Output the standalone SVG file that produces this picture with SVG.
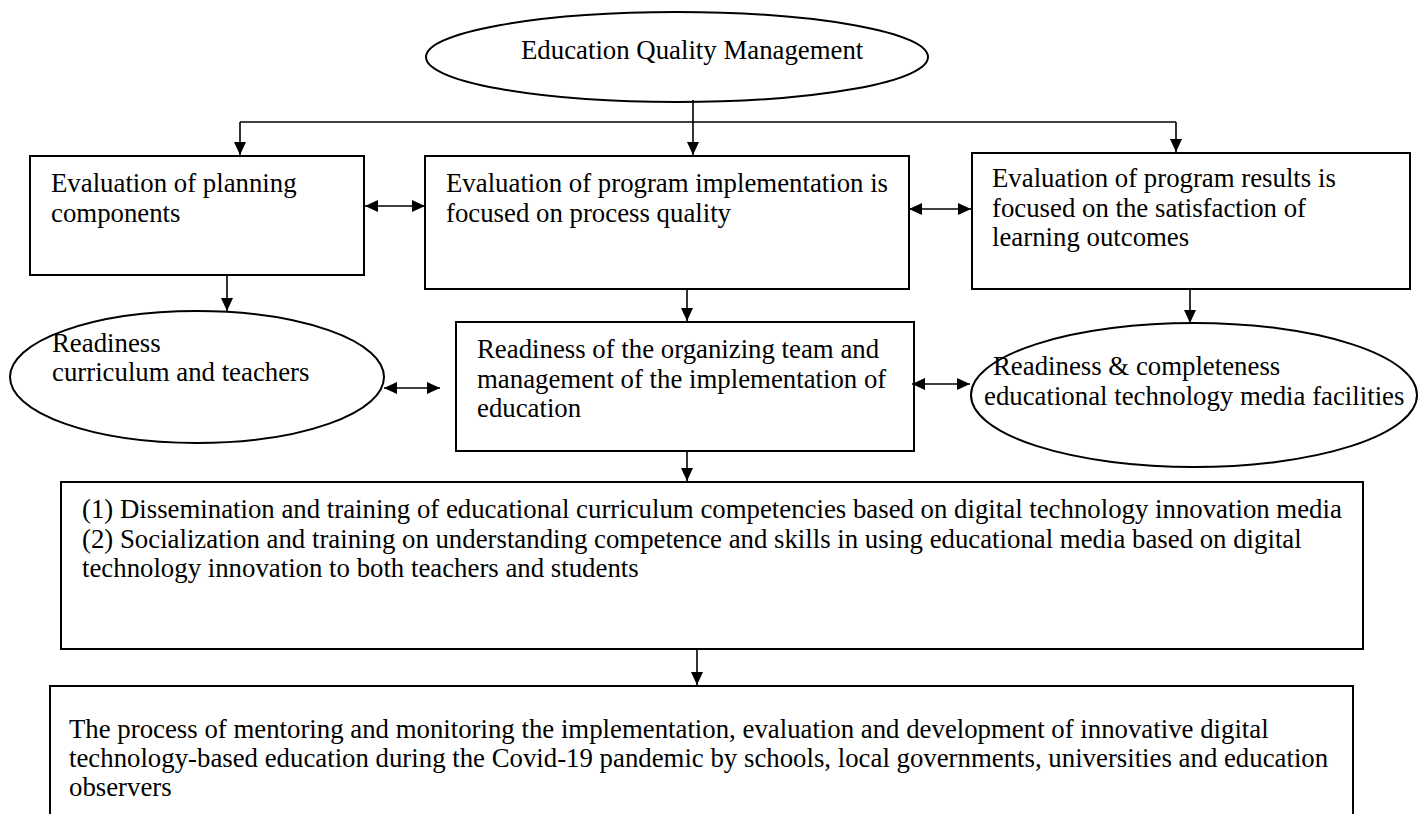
<svg xmlns="http://www.w3.org/2000/svg" width="1425" height="814" viewBox="0 0 1425 814">
<style>
.n{fill:#fff;stroke:#000;stroke-width:2}
.t{font-family:"Liberation Serif","Times New Roman",serif;font-size:26.8px;fill:#000}
.c{fill:none;stroke:#000;stroke-width:1.6}
</style>
<defs>
<marker id="ah" markerWidth="13" markerHeight="12" refX="13" refY="6" orient="auto-start-reverse" markerUnits="userSpaceOnUse">
<path d="M0,0 L13,6 L0,12 z" fill="#000"/>
</marker>
</defs>
<rect width="1425" height="814" fill="#fff"/>
<g id="n-top">
<ellipse class="n" cx="677" cy="57" rx="251" ry="45"/>
<text class="t" x="521" y="59">Education Quality Management</text>
</g>
<g id="n-plan">
<rect class="n" x="30" y="156" width="334" height="119"/>
<text class="t" x="51" y="192">Evaluation of planning</text>
<text class="t" x="51" y="222">components</text>
</g>
<g id="n-impl">
<rect class="n" x="425" y="156" width="484" height="133"/>
<text class="t" x="446" y="192">Evaluation of program implementation is</text>
<text class="t" x="446" y="222">focused on process quality</text>
</g>
<g id="n-res">
<rect class="n" x="972" y="153" width="438" height="136"/>
<text class="t" x="992" y="187">Evaluation of program results is</text>
<text class="t" x="992" y="217">focused on the satisfaction of</text>
<text class="t" x="992" y="246">learning outcomes</text>
</g>
<g id="n-curr">
<ellipse class="n" cx="197" cy="377" rx="187" ry="66"/>
<text class="t" x="52" y="352">Readiness</text>
<text class="t" x="52" y="381">curriculum and teachers</text>
</g>
<g id="n-team">
<rect class="n" x="456" y="322" width="458" height="129"/>
<text class="t" x="477" y="358">Readiness of the organizing team and</text>
<text class="t" x="477" y="388">management of the implementation of</text>
<text class="t" x="477" y="417">education</text>
</g>
<g id="n-media">
<ellipse class="n" cx="1194" cy="395" rx="223" ry="72"/>
<text class="t" x="993" y="375">Readiness &amp; completeness</text>
<text class="t" x="984" y="405">educational technology media facilities</text>
</g>
<g id="n-dissem">
<rect class="n" x="61" y="482" width="1302" height="167"/>
<text class="t" x="82" y="518">(1) Dissemination and training of educational curriculum competencies based on digital technology innovation media</text>
<text class="t" x="82" y="548">(2) Socialization and training on understanding competence and skills in using educational media based on digital</text>
<text class="t" x="82" y="577">technology innovation to both teachers and students</text>
</g>
<g id="n-mentor">
<rect class="n" x="50" y="686" width="1303" height="160"/>
<text class="t" x="69" y="738">The process of mentoring and monitoring the implementation, evaluation and development of innovative digital</text>
<text class="t" x="69" y="767">technology-based education during the Covid-19 pandemic by schools, local governments, universities and education</text>
<text class="t" x="69" y="796">observers</text>
</g>
<g id="connectors">
<path class="c" d="M693,100 V155" marker-end="url(#ah)"/>
<path class="c" d="M240,122 H1176"/>
<path class="c" d="M240,122 V155" marker-end="url(#ah)"/>
<path class="c" d="M1176,122 V152" marker-end="url(#ah)"/>
<path class="c" d="M365,206 H425" marker-start="url(#ah)" marker-end="url(#ah)"/>
<path class="c" d="M909,209 H971" marker-start="url(#ah)" marker-end="url(#ah)"/>
<path class="c" d="M227,275 V311" marker-end="url(#ah)"/>
<path class="c" d="M687,289 V321" marker-end="url(#ah)"/>
<path class="c" d="M1190,289 V323" marker-end="url(#ah)"/>
<path class="c" d="M384,388 H440" marker-start="url(#ah)" marker-end="url(#ah)"/>
<path class="c" d="M912,384 H970" marker-start="url(#ah)" marker-end="url(#ah)"/>
<path class="c" d="M687,451 V481" marker-end="url(#ah)"/>
<path class="c" d="M697,649 V685" marker-end="url(#ah)"/>
</g>
</svg>
